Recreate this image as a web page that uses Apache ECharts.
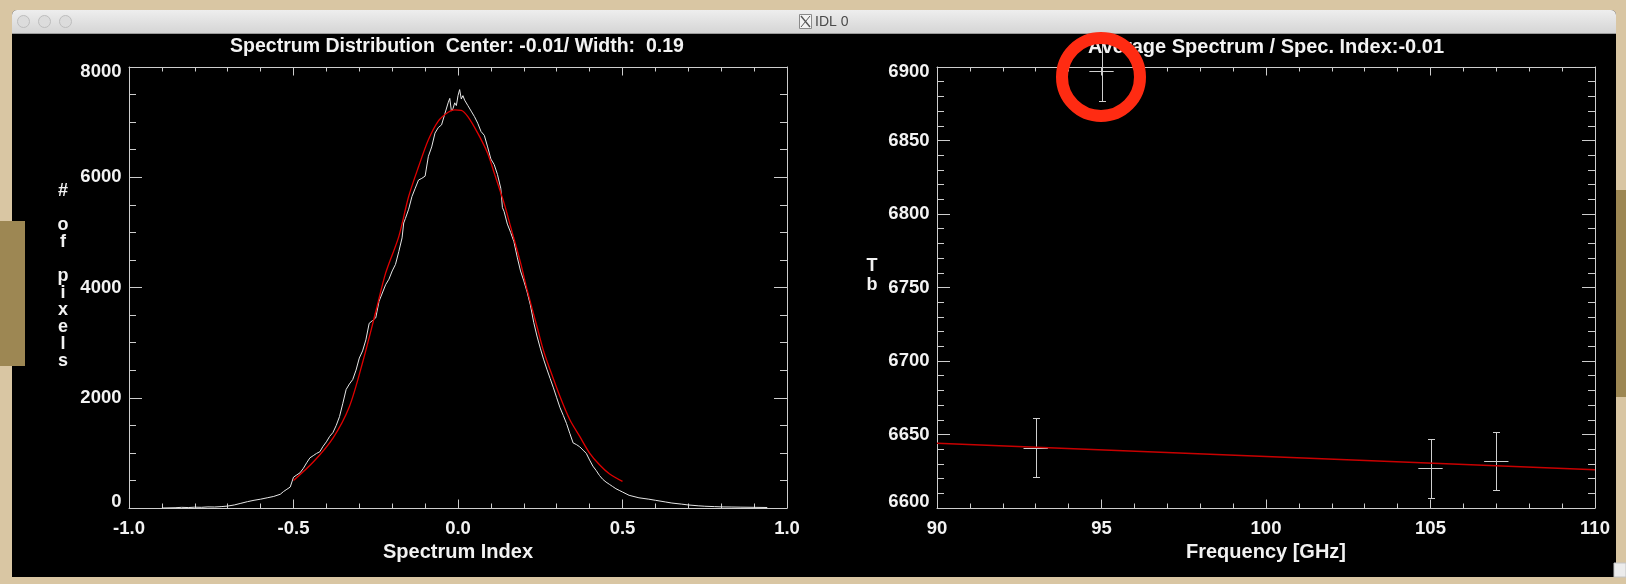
<!DOCTYPE html>
<html><head><meta charset="utf-8">
<script src="https://cdn.jsdelivr.net/npm/echarts@6/dist/echarts.min.js"></script>
<style>html,body{margin:0;padding:0;background:#d9c6a3;}#chart{width:1626px;height:584px;}</style>
</head><body><div id="chart"></div>
<script>
// ---- Left panel: histogram of spectral index ----
const histX = [-0.90,-0.86,-0.84,-0.82,-0.80,-0.78,-0.76,-0.74,-0.72,-0.70,-0.68,-0.66,-0.64,-0.62,-0.60,-0.58,-0.56,-0.54,-0.53,-0.52,-0.51,-0.50,-0.49,-0.48,-0.47,-0.46,-0.45,-0.44,-0.43,-0.42,-0.41,-0.40,-0.39,-0.38,-0.37,-0.36,-0.35,-0.34,-0.33,-0.32,-0.31,-0.30,-0.29,-0.28,-0.27,-0.26,-0.25,-0.24,-0.23,-0.22,-0.21,-0.20,-0.19,-0.18,-0.17,-0.165,-0.16,-0.15,-0.14,-0.13,-0.12,-0.11,-0.10,-0.09,-0.08,-0.07,-0.06,-0.05,-0.04,-0.03,-0.025,-0.02,-0.015,-0.01,-0.005,0.00,0.005,0.01,0.015,0.02,0.03,0.04,0.05,0.06,0.07,0.08,0.09,0.10,0.11,0.12,0.13,0.135,0.14,0.15,0.16,0.17,0.18,0.19,0.20,0.21,0.22,0.23,0.24,0.25,0.26,0.27,0.28,0.29,0.30,0.31,0.32,0.33,0.34,0.35,0.36,0.37,0.38,0.39,0.40,0.41,0.42,0.43,0.44,0.45,0.46,0.47,0.48,0.49,0.50,0.52,0.55,0.58,0.60,0.63,0.65,0.68,0.70,0.73,0.75,0.78,0.80,0.83,0.86,0.90,0.94];
const histCount = [0,5,12,8,15,12,20,18,25,35,55,85,115,140,160,185,210,250,300,340,380,560,600,640,720,820,910,950,990,1020,1120,1200,1300,1370,1500,1660,1900,2150,2250,2330,2500,2720,2850,3050,3350,3400,3450,3750,3900,4050,4150,4300,4420,4650,4900,5170,5250,5420,5650,5800,5950,5980,6020,6380,6550,6800,6900,6950,7150,7350,7430,7200,7250,7350,7300,7480,7590,7420,7480,7400,7300,7200,7100,6980,6830,6760,6550,6330,6230,6050,5800,5450,5380,5150,5000,4830,4550,4300,4120,3920,3680,3370,3120,2900,2700,2520,2350,2180,2000,1820,1680,1530,1350,1180,1150,1110,1050,990,870,760,680,590,520,470,430,390,350,320,290,230,185,160,140,110,90,70,55,40,32,25,20,18,15,12,9];
const fitX = [-0.50,-0.44,-0.38,-0.33,-0.29,-0.25,-0.22,-0.18,-0.15,-0.12,-0.09,-0.06,-0.03,-0.01,0.01,0.03,0.06,0.09,0.11,0.14,0.16,0.19,0.21,0.24,0.26,0.28,0.31,0.34,0.37,0.40,0.43,0.46,0.50];
const fitCount = [500,834,1269,1842,2640,3560,4260,4924,5650,6190,6680,7020,7180,7222,7215,7100,6800,6436,6080,5530,5100,4450,3960,3292,2850,2507,2023,1601,1298,997,785,622,482];
const leftXTickLabels = ['-1.0','-0.5','0.0','0.5','1.0'];
const leftYTickLabels = ['0','2000','4000','6000','8000'];

// ---- Right panel: average spectrum ----
const freqGHz = [93, 95, 105, 107];
const tbValue = [6641, 6897, 6627, 6632];
const tbError = [20, 20, 20, 20];
const freqError = [0.37, 0.37, 0.37, 0.37];
const fitFreq = [90, 100, 110];
const fitTb = [6644, 6635, 6626];
const rightXTickLabels = ['90','95','100','105','110'];
const rightYTickLabels = ['6600','6650','6700','6750','6800','6850','6900'];

const FONT = '"Liberation Sans", Arial, Helvetica, sans-serif';
const AX = '#cdcdcd';
const TXT = '#f2f2f2';

function labelFmt(arr, min, interval) {
  return function (v) {
    const i = Math.round((v - min) / interval);
    const s = arr[i];
    if (i === 0) return '{lo|' + s + '}';
    if (i === arr.length - 1) return '{hi|' + s + '}';
    return s;
  };
}
const labelRich = {
  lo: {fontSize: 18.5, fontWeight: 'bold', fontFamily: FONT, color: TXT, padding: [0, 0, 12, 0]},
  hi: {fontSize: 18.5, fontWeight: 'bold', fontFamily: FONT, color: TXT, padding: [9, 0, 0, 0]}
};

function xAx(grid, pos, min, max, interval, minorSplit, labels, name) {
  return {
    type: 'value', gridIndex: grid, position: pos, min: min, max: max, interval: interval,
    axisLine: {show: true, onZero: false, lineStyle: {color: AX, width: 1}},
    axisTick: {show: true, inside: true, length: 8.5, lineStyle: {color: AX, width: 1}},
    minorTick: {show: true, splitNumber: minorSplit, length: 4.5, lineStyle: {color: AX, width: 1}},
    splitLine: {show: false}, minorSplitLine: {show: false},
    axisLabel: labels ? {show: true, margin: 11, color: TXT, fontSize: 18.5, fontWeight: 'bold', fontFamily: FONT,
      formatter: function (v) { return labels[Math.round((v - min) / interval)]; }} : {show: false},
    name: name || '', nameLocation: 'middle', nameGap: 27.5,
    nameTextStyle: {color: TXT, fontSize: 20, fontWeight: 'bold', fontFamily: FONT}
  };
}
function yAx(grid, pos, min, max, interval, minorSplit, labels, name, nameOpts) {
  const o = {
    type: 'value', gridIndex: grid, position: pos, min: min, max: max, interval: interval,
    axisLine: {show: true, onZero: false, lineStyle: {color: AX, width: 1}},
    axisTick: {show: true, inside: true, length: 13, lineStyle: {color: AX, width: 1}},
    minorTick: {show: true, splitNumber: minorSplit, length: 7, lineStyle: {color: AX, width: 1}},
    splitLine: {show: false}, minorSplitLine: {show: false},
    axisLabel: labels ? {show: true, margin: 7.5, color: TXT, fontSize: 18.5, fontWeight: 'bold', fontFamily: FONT,
      formatter: labelFmt(labels, min, interval), rich: labelRich} : {show: false}
  };
  if (name) {
    // trailing spacer line lifts the stacked title slightly above the axis middle, as in the original
    o.name = name + '\n{sp| }'; o.nameLocation = 'middle'; o.nameRotate = 0; o.nameGap = nameOpts.gap;
    o.nameTextStyle = {color: TXT, fontSize: 18, fontWeight: 'bold', fontFamily: FONT, lineHeight: nameOpts.lh,
      align: 'center', verticalAlign: 'middle',
      rich: {sp: {fontSize: 10, lineHeight: nameOpts.spacer, color: TXT}}};
  }
  return o;
}

const chart = echarts.init(document.getElementById('chart'), null, {renderer: 'canvas'});
const histData = histX.map((x, i) => [x, histCount[i]]);
const fitData = fitX.map((x, i) => [x, fitCount[i]]);
const pointData = freqGHz.map((f, i) => [f, tbValue[i], tbError[i], freqError[i]]);
const fitLineData = fitFreq.map((f, i) => [f, fitTb[i]]);

const G = echarts.graphic;
chart.setOption({
  backgroundColor: '#d9c6a3',
  animation: false,
  title: [
    {text: 'Spectrum Distribution  Center: -0.01/ Width:  0.19', left: 457, top: 47, padding: 0,
     textAlign: 'center', textVerticalAlign: 'middle',
     textStyle: {color: TXT, fontSize: 19.5, fontWeight: 'bold', fontFamily: FONT}},
    {text: 'Average Spectrum / Spec. Index:-0.01', left: 1266, top: 47, padding: 0,
     textAlign: 'center', textVerticalAlign: 'middle',
     textStyle: {color: TXT, fontSize: 20, fontWeight: 'bold', fontFamily: FONT}}
  ],
  grid: [
    {left: 129, top: 67, width: 658, height: 441, containLabel: false},
    {left: 937, top: 67, width: 658, height: 441, containLabel: false}
  ],
  xAxis: [
    xAx(0, 'bottom', -1, 1, 0.5, 5, leftXTickLabels, 'Spectrum Index'),
    xAx(0, 'top', -1, 1, 0.5, 5, null, null),
    xAx(1, 'bottom', 90, 110, 5, 5, rightXTickLabels, 'Frequency [GHz]'),
    xAx(1, 'top', 90, 110, 5, 5, null, null)
  ],
  yAxis: [
    yAx(0, 'left', 0, 8000, 2000, 4, leftYTickLabels, '#\n\no\nf\n\np\ni\nx\ne\nl\ns', {gap: 66, lh: 17, spacer: 22}),
    yAx(0, 'right', 0, 8000, 2000, 4, null, null),
    yAx(1, 'left', 6600, 6900, 50, 5, rightYTickLabels, 'T\nb', {gap: 65, lh: 19, spacer: 24}),
    yAx(1, 'right', 6600, 6900, 50, 5, null, null)
  ],
  series: [
    {type: 'line', name: 'histogram', xAxisIndex: 0, yAxisIndex: 0, data: histData, symbol: 'none',
     lineStyle: {color: '#e6e6e6', width: 1}, z: 3},
    {type: 'line', name: 'gaussian fit', xAxisIndex: 0, yAxisIndex: 0, data: fitData, symbol: 'none', smooth: 0.3,
     lineStyle: {color: '#e00000', width: 1.3}, z: 4},
    {type: 'custom', name: 'Tb', xAxisIndex: 2, yAxisIndex: 2, data: pointData, clip: false, z: 3,
     renderItem: function (params, api) {
       const x = api.value(0), y = api.value(1), ey = api.value(2), ex = api.value(3);
       const t = api.coord([x, y + ey]), b = api.coord([x, y - ey]);
       const l = api.coord([x - ex, y]), r = api.coord([x + ex, y]);
       const cx = Math.round(t[0]) + 0.5, cy = Math.round(l[1]) + 0.5;
       const ty = Math.round(t[1]) + 0.5, by = Math.round(b[1]) + 0.5;
       const st = {stroke: '#cfcfcf', lineWidth: 1};
       const cap = 3.5;
       return {type: 'group', children: [
         {type: 'line', shape: {x1: cx, y1: ty, x2: cx, y2: by}, style: st},
         {type: 'line', shape: {x1: cx - cap, y1: ty, x2: cx + cap, y2: ty}, style: st},
         {type: 'line', shape: {x1: cx - cap, y1: by, x2: cx + cap, y2: by}, style: st},
         {type: 'line', shape: {x1: l[0], y1: cy, x2: r[0], y2: cy}, style: st}
       ]};
     }},
    {type: 'line', name: 'power-law fit', xAxisIndex: 2, yAxisIndex: 2, data: fitLineData, symbol: 'none',
     lineStyle: {color: '#c80000', width: 1.6}, z: 5}
  ],
  graphic: [
    {type: 'rect', silent: true, z: -100, shape: {x: 12, y: 10, width: 1604, height: 567, r: [5, 5, 0, 0]}, style: {fill: '#000000'}},
    {type: 'rect', silent: true, z: -99, shape: {x: 12, y: 10, width: 1604, height: 23, r: [5, 5, 0, 0]},
     style: {fill: new G.LinearGradient(0, 0, 0, 1, [{offset: 0, color: '#eeeeee'}, {offset: 1, color: '#d5d5d5'}])}},
    {type: 'line', silent: true, z: -98, shape: {x1: 12, y1: 33.5, x2: 1616, y2: 33.5}, style: {stroke: '#9c9c9c', lineWidth: 1}},
    {type: 'circle', silent: true, z: -98, shape: {cx: 23.5, cy: 21.5, r: 6}, style: {fill: '#dcdcdc', stroke: '#bdbdbd', lineWidth: 1}},
    {type: 'circle', silent: true, z: -98, shape: {cx: 44.5, cy: 21.5, r: 6}, style: {fill: '#dcdcdc', stroke: '#bdbdbd', lineWidth: 1}},
    {type: 'circle', silent: true, z: -98, shape: {cx: 65.5, cy: 21.5, r: 6}, style: {fill: '#dcdcdc', stroke: '#bdbdbd', lineWidth: 1}},
    {type: 'rect', silent: true, z: -98, shape: {x: 799.5, y: 14.5, width: 12, height: 14}, style: {fill: '#f4f4f4', stroke: '#8a8a8a', lineWidth: 1}},
    {type: 'polyline', silent: true, z: -97, shape: {points: [[801, 16], [810, 27]]}, style: {stroke: '#555', lineWidth: 1.4}},
    {type: 'polyline', silent: true, z: -97, shape: {points: [[810, 16], [801, 27]]}, style: {stroke: '#555', lineWidth: 1}},
    {type: 'text', silent: true, z: -97, style: {text: 'IDL 0', x: 815, y: 22.5, align: 'left', verticalAlign: 'middle',
      fontSize: 14, fontFamily: FONT, fill: '#4a4a4a'}},
    {type: 'rect', silent: true, z: 50, shape: {x: 0, y: 221, width: 25, height: 145}, style: {fill: '#9d8753'}},
    {type: 'rect', silent: true, z: 50, shape: {x: 1616, y: 190, width: 10, height: 207}, style: {fill: '#9d8753'}},
    {type: 'rect', silent: true, z: 50, shape: {x: 1614, y: 563, width: 12, height: 14}, style: {fill: '#ececec', stroke: '#c4c4c4', lineWidth: 1}},
    {type: 'circle', silent: true, z: 100, shape: {cx: 1101, cy: 77, r: 39}, style: {fill: 'none', stroke: '#ff2b12', lineWidth: 12}}
  ]
});
</script>
</body></html>
